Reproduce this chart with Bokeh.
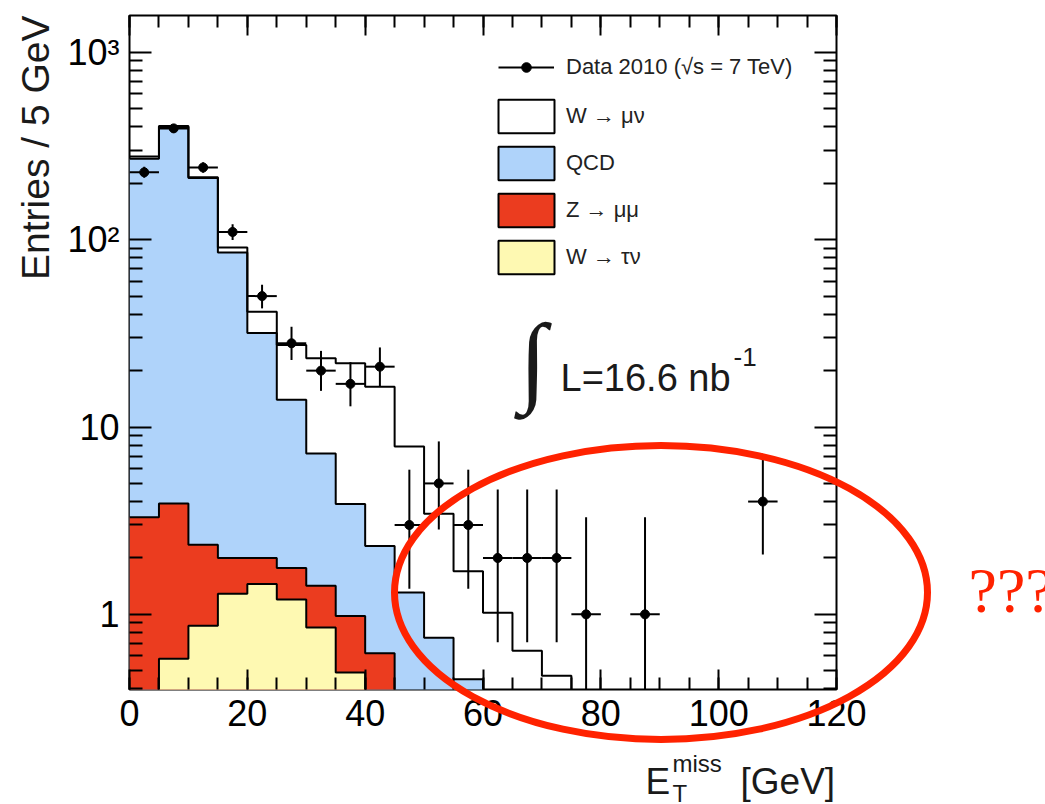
import numpy as np
from bokeh.plotting import figure
from bokeh.models import (Range1d, FixedTicker, LinearAxis, LogAxis,
                          Legend, LegendItem, ColumnDataSource)
from bokeh.core.properties import value
from bokeh.embed import file_html
from bokeh.resources import INLINE

# ---------------- data ----------------
bin_edges = list(range(0, 125, 5))          # 24 bins of 5 GeV, 0..120
data_counts = [229, 393, 243, 110, 50, 28, 20, 17, 21, 3, 5, 3,
               2, 2, 2, 1, 0, 1, 0, 0, 0, 4, 0, 0]
data_err_lo = [214, 373, 228, 99.6, 43.0, 22.8, 15.6, 12.9, 16.5, 1.37, 2.84, 1.37,
               0.71, 0.71, 0.71, 0.17, 0, 0.17, 0, 0, 0, 2.09, 0, 0]
data_err_hi = [245, 413, 259, 121, 57.5, 34.3, 25.5, 22.2, 26.6, 5.92, 8.38, 5.92,
               4.64, 4.64, 4.64, 3.30, 0, 3.30, 0, 0, 0, 7.16, 0, 0]

wtaunu = [0.30, 0.58, 0.87, 1.29, 1.45, 1.20, 0.85, 0.49, 0.25, 0.10, 0.05, 0.02,
          0, 0, 0, 0, 0, 0, 0, 0, 0, 0, 0, 0]
zmumu = [3.00, 3.33, 1.48, 0.71, 0.55, 0.57, 0.57, 0.49, 0.37, 0.15, 0.05, 0.02,
         0, 0, 0, 0, 0, 0, 0, 0, 0, 0, 0, 0]
qcd = [267, 396, 211, 83.5, 29.8, 12.2, 5.8, 2.9, 1.7, 1.06, 0.65, 0.41,
       0.25, 0.12, 0.05, 0, 0, 0, 0, 0, 0, 0, 0, 0]
wmunu = [8, 5, 2, 5.5, 9.5, 13.4, 16.1, 18.0, 14.1, 6.56, 2.69, 1.25,
         0.77, 0.52, 0.42, 0.15, 0.08, 0.04, 0.02, 0.01, 0, 0, 0, 0]

x_major = [0, 20, 40, 60, 80, 100, 120]
x_minor = list(range(0, 125, 5))
y_major = [1, 10, 100, 1000]
y_major_labels = ["1", "10", "10\u00b2", "10\u00b3"]
y_minor = [0.4, 0.5, 0.6, 0.7, 0.8, 0.9, 2, 3, 4, 5, 6, 7, 8, 9,
           20, 30, 40, 50, 60, 70, 80, 90, 200, 300, 400, 500, 600, 700, 800, 900]

legend_labels = ["Data 2010 (\u221as = 7 TeV)", "W \u2192 \u03bc\u03bd", "QCD",
                 "Z \u2192 \u03bc\u03bc", "W \u2192 \u03c4\u03bd"]
y_title = "Entries / 5 GeV"
lumi_text = "L=16.6 nb"
lumi_exp = "-1"
question = "???"

# ---------------- styling ----------------
C_BLUE = "#AFD3FA"
C_RED = "#EB3C1F"
C_YEL = "#FEF9B2"
C_ANN = "#FF2200"
FONT = "Liberation Sans"
FLOOR = 1e-3
W, H = 1045, 804

p = figure(frame_width=707, frame_height=674,
           x_range=Range1d(0, 120), y_range=Range1d(0.397, 1574),
           y_axis_type="log", output_backend="svg", toolbar_location=None,
           min_border_left=129, min_border_right=209,
           min_border_top=15, min_border_bottom=115)
p.background_fill_color = "white"
p.border_fill_color = "white"
p.outline_line_color = "black"
p.outline_line_width = 2
p.grid.visible = False

# stacked cumulative sums
c_tau = np.array(wtaunu, dtype=float)
c_z = c_tau + np.array(zmumu)
c_qcd = c_z + np.array(qcd)
c_tot = c_qcd + np.array(wmunu)

edges = np.array(bin_edges, dtype=float)

def stepy(vals):
    v = np.maximum(np.asarray(vals, dtype=float), FLOOR)
    return np.append(v, v[-1])

for cum, col in [(c_qcd, C_BLUE), (c_z, C_RED), (c_tau, C_YEL)]:
    p.varea_step(x=edges, y1=np.full(len(edges), FLOOR), y2=stepy(cum),
                 step_mode="after", fill_color=col)

for cum in [c_tot, c_qcd, c_z, c_tau]:
    p.step(x=edges, y=stepy(cum), mode="after", line_color="black", line_width=2)

# data points with error bars
counts = np.array(data_counts, dtype=float)
centers = 0.5 * (edges[:-1] + edges[1:])
mask = counts > 0
src = ColumnDataSource(dict(
    x=centers[mask], y=counts[mask],
    x0=edges[:-1][mask], x1=edges[1:][mask],
    lo=np.maximum(np.array(data_err_lo)[mask], FLOOR),
    hi=np.array(data_err_hi)[mask]))
p.segment(x0="x", x1="x", y0="lo", y1="hi", source=src, line_color="black", line_width=2)
hbar = p.segment(x0="x0", x1="x1", y0="y", y1="y", source=src, line_color="black", line_width=2)
dots = p.scatter(x="x", y="y", source=src, size=9, marker="circle",
                 fill_color="black", line_color="black")

# axes
def style(ax, ticker, tick_major, tick_minor, labels):
    ax.ticker = ticker
    ax.axis_line_color = None
    ax.major_tick_in = tick_major
    ax.major_tick_out = 0
    ax.minor_tick_in = tick_minor
    ax.minor_tick_out = 0
    ax.major_tick_line_width = 2
    ax.minor_tick_line_width = 2
    ax.major_tick_line_color = "black"
    ax.minor_tick_line_color = "black"
    if labels:
        ax.major_label_text_font = FONT
        ax.major_label_text_font_size = "36px"
        ax.major_label_text_color = "black"
    else:
        ax.major_label_text_font_size = "1px"
        ax.major_label_text_color = None
        ax.major_label_standoff = 0

xt = FixedTicker(ticks=x_major, minor_ticks=x_minor)
yt = FixedTicker(ticks=y_major, minor_ticks=y_minor)

style(p.xaxis[0], xt, 20, 12, True)
p.xaxis[0].major_label_standoff = 10
style(p.yaxis[0], yt, 22, 13, True)
p.yaxis[0].major_label_standoff = 10
p.yaxis[0].major_label_overrides = dict(zip(y_major, y_major_labels))

top = LinearAxis()
style(top, xt, 20, 12, False)
p.add_layout(top, "above")
right = LogAxis()
style(right, yt, 22, 13, False)
p.add_layout(right, "right")

# legend swatches (renderers with no drawable points, used only for the legend)
sw = []
for col in ["white", C_BLUE, C_RED, C_YEL]:
    sw.append(p.quad(left=[np.nan], right=[np.nan], top=[np.nan], bottom=[np.nan],
                     fill_color=col, line_color="black", line_width=2))

leg_common = dict(padding=0, margin=0,
                  border_line_color=None, background_fill_alpha=0,
                  label_text_font=FONT, label_text_font_size="22px",
                  label_text_color="#222222")
leg_data = Legend(items=[LegendItem(label=legend_labels[0], renderers=[hbar, dots])],
                  location=(369, 609), glyph_width=56, glyph_height=24,
                  label_standoff=12, **leg_common)
leg_mc = Legend(items=[LegendItem(label=t, renderers=[r])
                       for t, r in zip(legend_labels[1:], sw)],
                location=(362, 411), glyph_width=70, glyph_height=42, spacing=5,
                label_standoff=5, **leg_common)
p.add_layout(leg_data)
p.add_layout(leg_mc)

# ---------------- transparent overlay (pixel coordinates) for titles/annotation ----
ov = figure(width=W, height=H, x_range=Range1d(0, W), y_range=Range1d(H, 0),
            x_axis_location=None, y_axis_location=None, min_border=0,
            output_backend="svg", toolbar_location=None,
            background_fill_color=None, border_fill_color=None,
            outline_line_color=None)
ov.grid.visible = False
ov.styles = {"position": "absolute", "left": "0px", "top": "0px", "z-index": "5"}

def txt(t, x, y, size, font=FONT, color="#1a1a1a", **kw):
    ov.text(x=[x], y=[y], text=[t], text_font=value(font), text_font_size=size,
            text_color=color, text_baseline="alphabetic", **kw)

txt(y_title, 35, 15, "39px", angle=np.pi / 2, text_align="right")
txt("E", 645, 781, "37px")
txt("T", 672, 793, "24px")
txt("miss", 672, 763, "24px")
txt("[GeV]", 740, 781, "37px")

ov.text(x=[545], y=[358], text=["\u222b"], text_font=value("DejaVu Sans"),
        text_font_size="100px", text_color="#1a1a1a", text_align="center",
        text_baseline="middle")
txt(lumi_text, 560, 377, "38px")
txt(lumi_exp, 733, 356, "26px")

ov.ellipse(x=[660.5], y=[592], width=[533], height=[294], fill_color=None,
           line_color=C_ANN, line_width=7)
txt(question, 968, 590, "64px", font="Liberation Serif", color=C_ANN)

open("out.html", "w").write(file_html([p, ov], INLINE))
